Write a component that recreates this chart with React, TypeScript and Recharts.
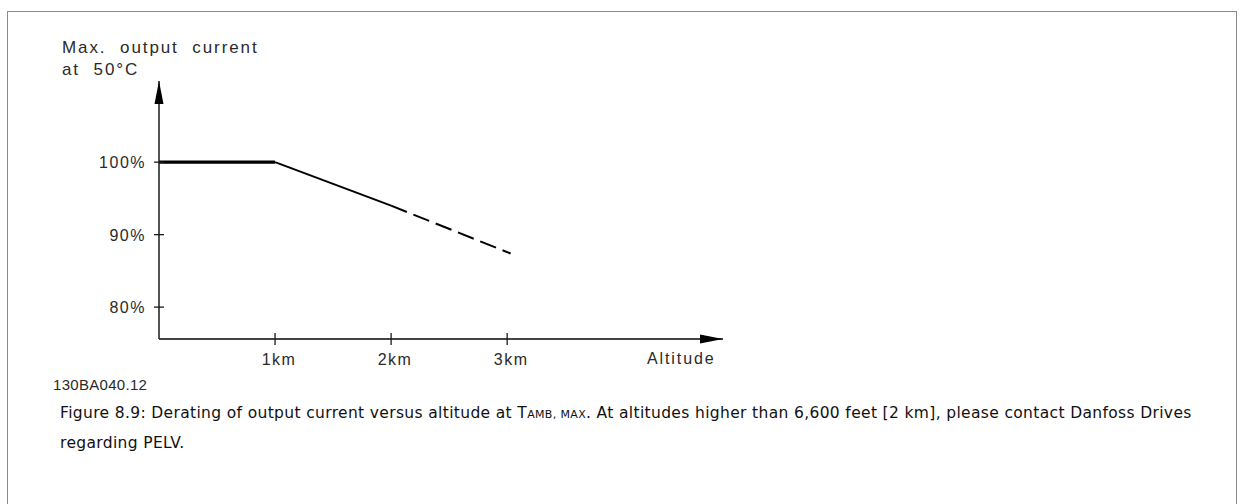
import React from "react";
import { LineChart, Line, XAxis, YAxis, ReferenceDot } from "recharts";

// altitude in km, current in % of rated output
const xTicks = [1, 2, 3];
const xTickLabels = ["1km", "2km", "3km"];
const yTicks = [80, 90, 100];
const yTickLabels = ["80%", "90%", "100%"];
const xDomain = [0, 4.86];
const yDomain = [75.6, 111.2];

const flatPart = [
  { alt: 0, current: 100 },
  { alt: 1, current: 100 },
];
const slopePart = [
  { alt: 1, current: 100 },
  { alt: 2, current: 94 },
];
const dashedPart = [
  { alt: 2, current: 94 },
  { alt: 3.03, current: 87.4 },
];

const isoFont = "'Liberation Sans', Arial, sans-serif";
const ink = "#1a1a1a";
const labelInk = "#2a2a2a";

const YTick = (props: any) => {
  const { x, y, payload } = props;
  const label = yTickLabels[yTicks.indexOf(payload.value)];
  return (
    <g>
      <line x1={x - 5} x2={x + 5} y1={y} y2={y} stroke={ink} strokeWidth={1.3} />
      <text x={x - 13} y={y + 6} textAnchor="end" fontFamily={isoFont} fontSize={16} letterSpacing={1.5} fill={labelInk}>
        {label}
      </text>
    </g>
  );
};

const XTick = (props: any) => {
  const { x, y, payload } = props;
  const label = xTickLabels[xTicks.indexOf(payload.value)];
  return (
    <g>
      <line x1={x} x2={x} y1={y - 6} y2={y + 6} stroke={ink} strokeWidth={1.3} />
      <text x={x + 4} y={y + 26} textAnchor="middle" fontFamily={isoFont} fontSize={16} letterSpacing={1.5} fill={labelInk}>
        {label}
      </text>
    </g>
  );
};

const RightArrow = (props: any) => {
  const { cx, cy } = props;
  return <polygon points={`${cx},${cy} ${cx - 23},${cy - 4.5} ${cx - 23},${cy + 4.5}`} fill="#000" />;
};

const UpArrow = (props: any) => {
  const { cx, cy } = props;
  return <polygon points={`${cx},${cy} ${cx - 4.5},${cy + 23} ${cx + 4.5},${cy + 23}`} fill="#000" />;
};

const textStyle: React.CSSProperties = {
  position: "absolute",
  fontFamily: isoFont,
  fontSize: 17,
  letterSpacing: 1.9,
  wordSpacing: 7,
  color: labelInk,
  whiteSpace: "nowrap",
  lineHeight: "22px",
};

export default function App() {
  return (
    <div style={{ position: "absolute", left: 0, top: 0, width: 1242, height: 504, background: "#fff", overflow: "hidden" }}>
      <div
        style={{
          position: "absolute",
          left: 7,
          top: 11,
          width: 1228,
          height: 520,
          border: "1px solid #8a8a8a",
        }}
      />
      <div style={{ ...textStyle, left: 62, top: 37 }}>
        Max. output current
        <br />
        at 50°C
      </div>
      <div style={{ ...textStyle, left: 647, top: 348, fontSize: 16, wordSpacing: 0 }}>Altitude</div>
      <div style={{ ...textStyle, left: 53, top: 374, fontSize: 15, letterSpacing: 0.3, wordSpacing: 0 }}>130BA040.12</div>
      <div
        style={{
          position: "absolute",
          left: 60,
          top: 399,
          fontFamily: "'DejaVu Sans', sans-serif",
          fontSize: 15.5,
          letterSpacing: 0.35,
          lineHeight: "28px",
          color: "#111",
          whiteSpace: "nowrap",
        }}
      >
        Figure 8.9: Derating of output current versus altitude at T
        <span style={{ fontSize: 11 }}>AMB, MAX</span>. At altitudes higher than 6,600 feet [2 km], please contact Danfoss Drives
        <br />
        regarding PELV.
      </div>
      <LineChart
        width={1242}
        height={504}
        margin={{ top: 81, right: 519, bottom: 125, left: 99 }}
        style={{ position: "absolute", left: 0, top: 0 }}
      >
        <XAxis
          dataKey="alt"
          type="number"
          domain={xDomain}
          ticks={xTicks}
          tick={<XTick />}
          tickSize={0}
          tickMargin={0}
          tickLine={false}
          height={40}
          axisLine={{ stroke: "#444", strokeWidth: 2 }}
          allowDataOverflow
        />
        <YAxis
          type="number"
          domain={yDomain}
          ticks={yTicks}
          tick={<YTick />}
          tickSize={0}
          tickMargin={0}
          tickLine={false}
          width={60}
          axisLine={{ stroke: ink, strokeWidth: 1.5 }}
          allowDataOverflow
        />
        <Line data={flatPart} dataKey="current" type="linear" stroke="#000" strokeWidth={3.2} dot={false} isAnimationActive={false} />
        <Line data={slopePart} dataKey="current" type="linear" stroke="#000" strokeWidth={2} dot={false} isAnimationActive={false} />
        <Line
          data={dashedPart}
          dataKey="current"
          type="linear"
          stroke="#000"
          strokeWidth={2}
          strokeDasharray="17 7"
          dot={false}
          isAnimationActive={false}
        />
        <ReferenceDot x={xDomain[1]} y={yDomain[0]} r={0} shape={<RightArrow />} ifOverflow="visible" />
        <ReferenceDot x={xDomain[0]} y={yDomain[1]} r={0} shape={<UpArrow />} ifOverflow="visible" />
      </LineChart>
    </div>
  );
}
